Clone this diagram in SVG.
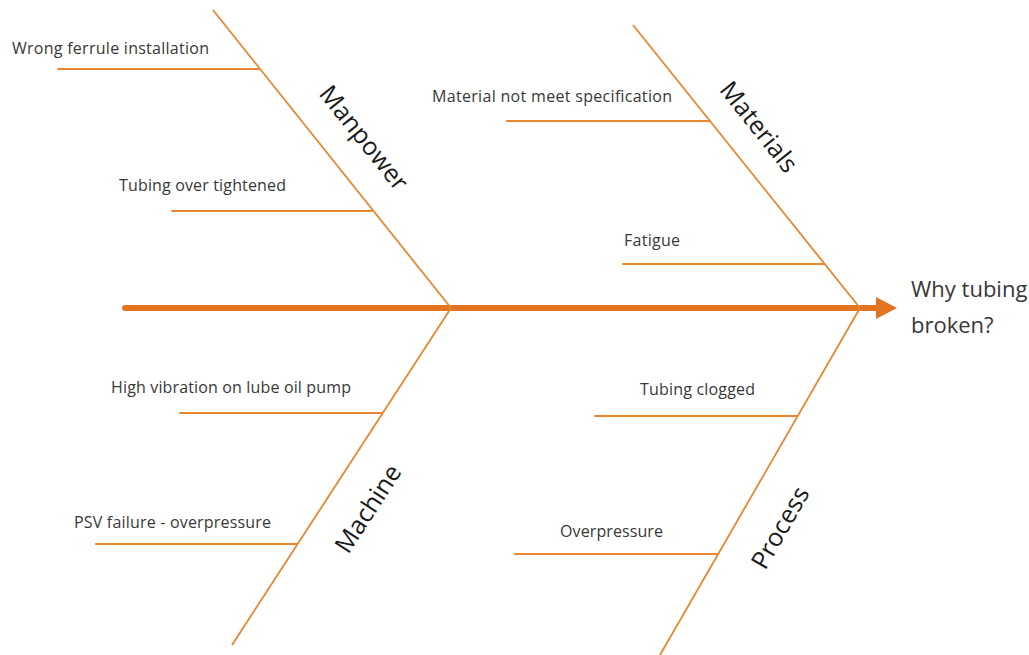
<svg xmlns="http://www.w3.org/2000/svg" width="1029" height="655" viewBox="0 0 1029 655">
<defs>
<style>
.bone{stroke:#E9862F;stroke-width:2;fill:none;stroke-linecap:round}
.spine{stroke:#E9862F;stroke-width:1.8;fill:none}
.lbl{font-family:"Open Sans","Liberation Sans",sans-serif;font-size:16px;fill:#383838}
.cat{font-family:"Open Sans","Liberation Sans",sans-serif;font-size:25px;fill:#1a1a1a}
.head{font-family:"Open Sans","Liberation Sans",sans-serif;font-size:22px;fill:#383838}
</style>
</defs>
<rect width="1029" height="655" fill="#ffffff"/>
<g id="connectors">
<line x1="125" y1="308" x2="880" y2="308" stroke="#E27420" stroke-width="6" stroke-linecap="round"/>
<polygon points="876,297 897,308 876,319" fill="#E27420"/>
<line class="spine" x1="213" y1="10" x2="451" y2="308"/>
<line class="spine" x1="633" y1="25" x2="860" y2="308"/>
<line class="spine" x1="451" y1="308" x2="232" y2="645"/>
<line class="spine" x1="860" y1="308" x2="660" y2="655"/>
</g>
<g id="manpower">
<text class="cat" transform="translate(365,137) rotate(51.5)" text-anchor="middle" dominant-baseline="central">Manpower</text>
<line class="bone" x1="58" y1="69" x2="259" y2="69"/>
<text class="lbl" x="12" y="54" textLength="197">Wrong ferrule installation</text>
<line class="bone" x1="172" y1="211" x2="372" y2="211"/>
<text class="lbl" x="119" y="191" textLength="167">Tubing over tightened</text>
</g>
<g id="materials">
<text class="cat" transform="translate(760,126) rotate(51.5)" text-anchor="middle" dominant-baseline="central">Materials</text>
<line class="bone" x1="507" y1="121" x2="710" y2="121"/>
<text class="lbl" x="432" y="102" textLength="240">Material not meet specification</text>
<line class="bone" x1="623" y1="264" x2="823" y2="264"/>
<text class="lbl" x="624" y="246" textLength="56">Fatigue</text>
</g>
<g id="machine">
<text class="cat" transform="translate(367,508) rotate(-57)" text-anchor="middle" dominant-baseline="central">Machine</text>
<line class="bone" x1="180" y1="413" x2="382" y2="413"/>
<text class="lbl" x="111" y="393" textLength="240">High vibration on lube oil pump</text>
<line class="bone" x1="96" y1="544" x2="297" y2="544"/>
<text class="lbl" x="74" y="528" textLength="197">PSV failure - overpressure</text>
</g>
<g id="process">
<text class="cat" transform="translate(779,527) rotate(-60)" text-anchor="middle" dominant-baseline="central">Process</text>
<line class="bone" x1="595" y1="416" x2="797" y2="416"/>
<text class="lbl" x="640" y="395" textLength="115">Tubing clogged</text>
<line class="bone" x1="515" y1="554" x2="717" y2="554"/>
<text class="lbl" x="560" y="537" textLength="103">Overpressure</text>
</g>
<g id="effect">
<text class="head" x="911" y="297">Why tubing</text>
<text class="head" x="911" y="333">broken?</text>
</g>
</svg>
